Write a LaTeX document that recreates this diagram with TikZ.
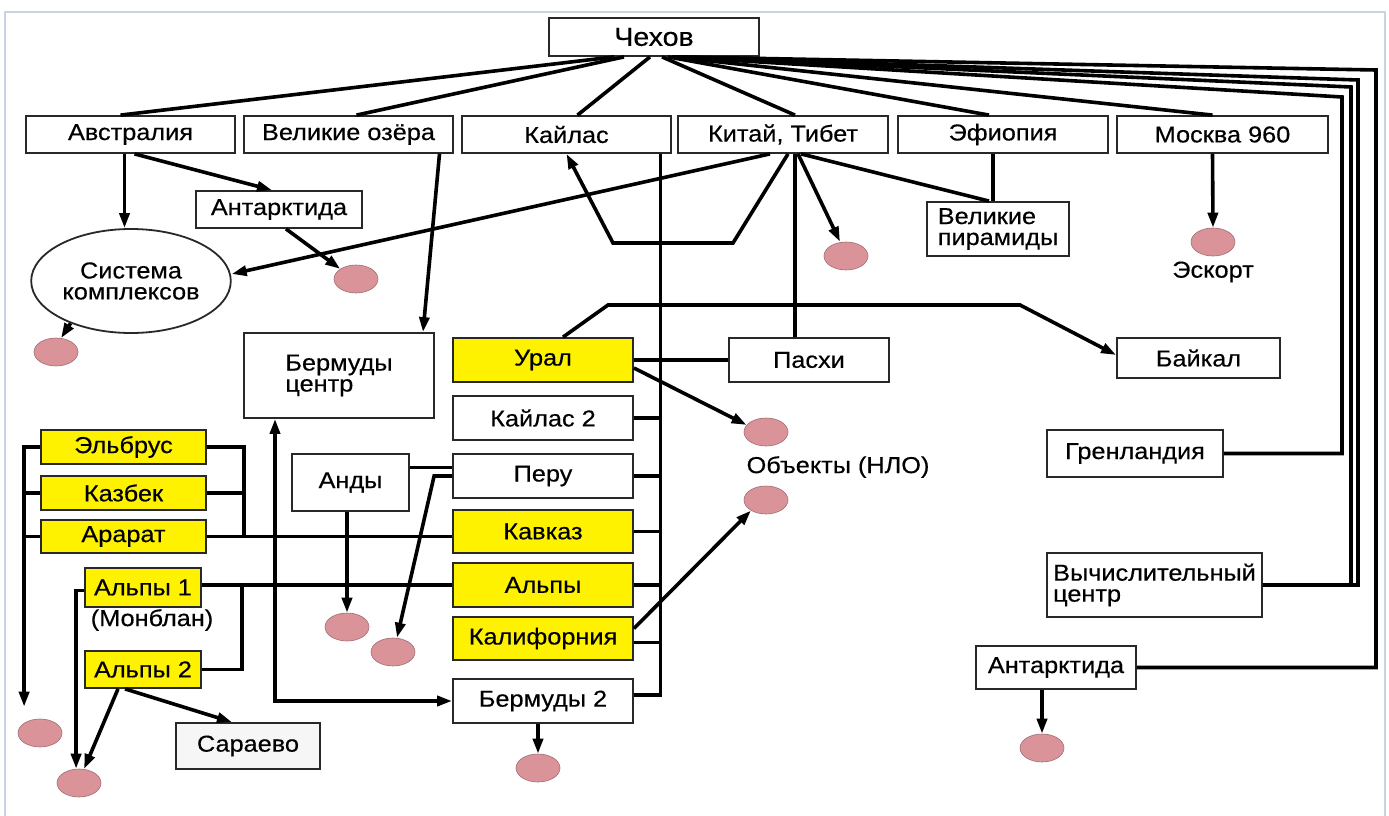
\documentclass[tikz,border=0pt]{standalone}
\usepackage{fontspec}
\setmainfont{Liberation Sans}[FakeStretch=1.1,FakeBold=0.4]
\usetikzlibrary{arrows.meta,shapes.geometric,calc}
\newcommand\lblfont{\fontsize{23}{21}\selectfont}
\newcommand\topfont{\fontsize{26}{26}\selectfont}
\definecolor{boxline}{RGB}{40,40,40}
\definecolor{ylw}{RGB}{255,242,0}
\definecolor{pinkfill}{RGB}{217,147,153}
\definecolor{pinkline}{RGB}{160,110,115}
\definecolor{framecol}{RGB}{200,212,228}
\definecolor{sarfill}{RGB}{246,246,246}
\begin{document}
\begin{tikzpicture}[x=1pt,y=-1pt,
  wh/.style 2 args={minimum width=#1pt, minimum height=#2pt},
  box/.style={draw=boxline, line width=1.8pt, fill=white, inner sep=2pt, font=\lblfont, text=black},
  ybox/.style={box, fill=ylw},
  pink/.style={ellipse, draw=pinkline, line width=0.6pt, fill=pinkfill, minimum width=44pt, minimum height=28pt, inner sep=0pt},
  lbl/.style={font=\lblfont, inner sep=0pt},
  con/.style={line width=3.6pt, line join=miter},
  arr/.style={con, -{Triangle[length=15pt,width=10pt]}}]
\useasboundingbox (0,0) rectangle (1389,816);
\fill[white] (0,0) rectangle (1389,816);
\draw[framecol, line width=2.5pt] (5,12) rectangle (1385,830);

% nodes
\node[box,wh={210}{38},font=\topfont] (chekhov) at (654,37) {Чехов};
\node[box,wh={209}{37}] (avstr) at (130.5,134.5) {Австралия};
\node[box,wh={209}{37}] (ozera) at (348.5,134.5) {Великие озёра};
\node[box,wh={209}{37}] (kailas) at (566.5,134.5) {Кайлас};
\node[box,wh={210}{37}] (kitai) at (783,134.5) {Китай, Тибет};
\node[box,wh={210}{37}] (efiop) at (1003,134.5) {Эфиопия};
\node[box,wh={211}{37}] (moskva) at (1222.5,134.5) {Москва 960};
\node[box,wh={166}{37}] (antark1) at (279,209.5) {Антарктида};
\node[box,ellipse,wh={196}{104},align=center] (sistema) at (131,281) {Система\\комплексов};
\node[box,wh={142}{54},align=left] (piramidy) at (998,229) {Великие\\пирамиды};
\node[box,wh={190}{85},align=left] (bermc) at (339,375.5) {Бермуды\\центр};
\node[ybox,wh={180}{44}] (ural) at (543,360) {Урал};
\node[box,wh={180}{44}] (kailas2) at (543,418) {Кайлас 2};
\node[box,wh={180}{44}] (peru) at (543,476) {Перу};
\node[ybox,wh={180}{43}] (kavkaz) at (543,531.5) {Кавказ};
\node[ybox,wh={180}{44}] (alpy) at (543,585) {Альпы};
\node[ybox,wh={180}{43}] (kalif) at (543,638.5) {Калифорния};
\node[box,wh={180}{44}] (berm2) at (543,701) {Бермуды 2};
\node[box,wh={117}{57}] (andy) at (350.5,482.5) {Анды};
\node[ybox,wh={165}{34}] (elbrus) at (123.5,447) {Эльбрус};
\node[ybox,wh={165}{34}] (kazbek) at (123.5,493) {Казбек};
\node[ybox,wh={165}{33}] (ararat) at (123.5,536.5) {Арарат};
\node[ybox,wh={116}{39}] (alpy1) at (143,587.5) {Альпы 1};
\node[lbl] (monblan) at (152,620) {(Монблан)};
\node[ybox,wh={116}{37}] (alpy2) at (143,669.5) {Альпы 2};
\node[box,wh={144}{46},fill=sarfill] (saraevo) at (248,746) {Сараево};
\node[box,wh={160}{44}] (paskhi) at (809,360) {Пасхи};
\node[box,wh={163}{40}] (baikal) at (1198.5,358) {Байкал};
\node[box,wh={176}{47}] (grenl) at (1135,453.5) {Гренландия};
\node[box,wh={215}{64},align=left,inner sep=1pt] (vych) at (1154.5,585) {Вычислительный\\центр};
\node[box,wh={160}{43}] (antark2) at (1056,667.5) {Антарктида};

\node[pink] (pink1) at (356,279) {};
\node[pink] (pink2) at (56,352) {};
\node[pink] (pink3) at (846,256) {};
\node[pink] (pinkE) at (1213,242) {};
\node[lbl] (eskort) at (1213,272) {Эскорт};
\node[pink] (pinkL) at (40,733) {};
\node[pink] (pinkA) at (79,783) {};
\node[pink] (pinkAndy) at (347,627) {};
\node[pink] (pinkPeru) at (393,652) {};
\node[pink] (ufo1) at (766,432) {};
\node[pink] (ufo2) at (766,500) {};
\node[lbl] (ufotext) at (838,467) {Объекты (НЛО)};
\node[pink] (pinkBerm) at (538,768) {};
\node[pink] (pinkAnt2) at (1042,748) {};

% connectors from Chekhov
\draw[con] ([xshift=-40]chekhov.south) -- ([xshift=-10]avstr.north);
\draw[con] ([xshift=-30]chekhov.south) -- ([xshift=8]ozera.north);
\draw[con] ([xshift=-4]chekhov.south) -- ([xshift=11]kailas.north);
\draw[con] ([xshift=8]chekhov.south) -- ([xshift=12]kitai.north);
\draw[con] ([xshift=14]chekhov.south) -- ([xshift=-14]efiop.north);
\draw[con] ([xshift=18]chekhov.south) -- ([xshift=-10]moskva.north);
\coordinate (r1) at (1376,70);
\coordinate (r2) at (1358,80);
\coordinate (r3) at (1351,87);
\coordinate (r4) at (1342,97);
\draw[con] ([xshift=24]chekhov.south) -- (r1) |- (antark2.east);
\draw[con] ([xshift=23]chekhov.south) -- (r2) |- (vych.east);
\draw[con] ([xshift=22]chekhov.south) -- (r3) |- (vych.east);
\draw[con] ([xshift=21]chekhov.south) -- (r4) |- (grenl.east);

% China, Tibet
\draw[arr] ([xshift=-13]kitai.south) -- ([yshift=7]sistema.east);
\coordinate (k1) at (733,243);
\coordinate (k2) at (613,243);
\draw[arr] ([xshift=5]kitai.south) -- (k1) -- (k2) -- (kailas.south);
\draw[arr] ([xshift=15]kitai.south) -- ([xshift=-6]pink3.north);
\draw[con] ([xshift=18]kitai.south) -- ([xshift=-9]piramidy.north);
\path ([xshift=-10]efiop.south) coordinate (e1);
\draw[con] (e1) -- (e1 |- piramidy.north);
\path ([xshift=12]kitai.south) coordinate (kp);
\draw[con] (kp) -- (kp |- paskhi.north);
\draw[arr] ([xshift=-10]moskva.south) -- (pinkE.north);

% Australia
\path ([xshift=-6]avstr.south) coordinate (as);
\draw[arr] (as) -- (as |- sistema.north);
\draw[arr] ([xshift=4]avstr.south) -- ([xshift=-7]antark1.north);
\draw[arr] ([xshift=7]antark1.south) -- (pink1.north west);
\draw[arr] (sistema.215) -- (pink2.70);
\draw[arr] ([xshift=91]ozera.south) -- ([xshift=84]bermc.north);

% Ural
\coordinate (b1) at (608,305);
\coordinate (b2) at (1020,305);
\draw[arr] ([xshift=20]ural.north) -- (b1) -- (b2) -- ([yshift=3]baikal.west);
\draw[con] (ural.east) -- (paskhi.west);
\draw[arr] ([yshift=-8]ural.east) -- (ufo1.160);
\draw[arr] ([yshift=10]kalif.east) -- (ufo2.215);

% Kailas bus
\path ([xshift=94]kailas.south) coordinate (bus);
\path ([yshift=6]berm2.east) coordinate (bb);
\draw[con] (bus) -- (bus |- bb) -- (bb);
\foreach \n in {kailas2,peru,kavkaz,alpy} \draw[con] (\n.east) -- (\n.east -| bus);
\path ([yshift=-4]kalif.east) coordinate (kc);
\draw[con] (kc) -- (kc -| bus);

% Andes, Peru
\path ([yshift=15]andy.east) coordinate (ap);
\draw[con] (ap) -- (ap -| peru.west);
\path ([xshift=-18]peru.west) coordinate (p1);
\draw[arr] (peru.west) -- (p1) -- ([xshift=4]pinkPeru.north);
\draw[arr] ([xshift=-3.5]andy.south) -- (pinkAndy.north);

% Caucasus group
\draw[con] (ararat.east) -- (ararat.east -| kavkaz.west);
\path ([xshift=37]elbrus.east) coordinate (eb);
\draw[con] (elbrus.east) -- (eb) -- (eb |- ararat.east);
\draw[con] (kazbek.east) -- (kazbek.east -| eb);
\path ([xshift=-16]elbrus.west) coordinate (lb);
\path ([yshift=12]pinkL.north) coordinate (lq);
\draw[arr] (elbrus.west) -- (lb) -- (lb |- lq);
\draw[con] (kazbek.west) -- (kazbek.west -| lb);
\draw[con] (ararat.west) -- (ararat.west -| lb);

% Alps
\path (alpy1.east |- alpy.west) coordinate (a1e);
\draw[con] (a1e) -- (alpy.west);
\path ([xshift=40]a1e) coordinate (a12);
\draw[con] (a12) |- (alpy2.east);
\path ([yshift=-3]alpy1.west) coordinate (a1w);
\path ([xshift=-8]a1w) coordinate (al);
\draw[arr] (a1w) -- (al) -- (al |- pinkA.north);
\draw[arr] ([xshift=-25]alpy2.south) -- (pinkA.70);
\draw[arr] ([xshift=-18]alpy2.south) -- ([xshift=-16]saraevo.north);

% Bermuda
\path ([xshift=-64]bermc.south) coordinate (bc);
\draw[con, {Triangle[length=15pt,width=10pt]}-{Triangle[length=15pt,width=10pt]}] (bc) -- (bc |- berm2.west) -- (berm2.west);
\draw[arr] ([xshift=-5]berm2.south) -- (pinkBerm.north);
\draw[arr] ([xshift=-14]antark2.south) -- (pinkAnt2.north);
\end{tikzpicture}
\end{document}
